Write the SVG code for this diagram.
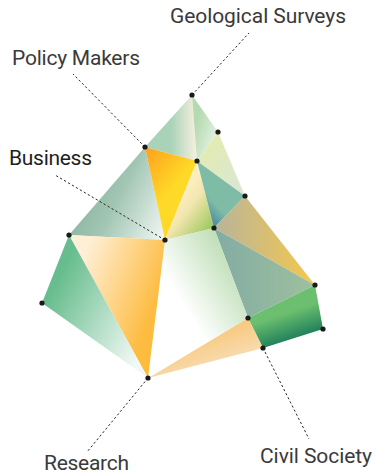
<svg xmlns="http://www.w3.org/2000/svg" width="376" height="474" viewBox="0 0 376 474">
<style>
text{font-family:"Roboto","Noto Sans","Liberation Sans",sans-serif;font-size:21px;fill:#3a3a3a}
.l{fill:none;stroke:#2a2a2a;stroke-width:1;stroke-dasharray:2.3 2.3}
.d{fill:#1a1a1a}
</style>
<defs>
<linearGradient id="g1" gradientUnits="userSpaceOnUse" x1="145" y1="130" x2="197" y2="130"><stop offset="0" stop-color="#a9d3b9"/><stop offset=".5" stop-color="#a9d3b9"/><stop offset="1" stop-color="#f8f0e0"/></linearGradient>
<linearGradient id="g2" gradientUnits="userSpaceOnUse" x1="195" y1="125" x2="225" y2="135"><stop offset="0" stop-color="#b5dab0"/><stop offset="1" stop-color="#eff7f0"/></linearGradient>
<linearGradient id="g3" gradientUnits="userSpaceOnUse" x1="205" y1="150" x2="245" y2="190"><stop offset="0" stop-color="#e2ebb4"/><stop offset="1" stop-color="#d9e7d6"/></linearGradient>
<linearGradient id="g4" gradientUnits="userSpaceOnUse" x1="145" y1="150" x2="180" y2="180"><stop offset="0" stop-color="#fda11f"/><stop offset="1" stop-color="#ffd927"/></linearGradient>
<linearGradient id="g5" gradientUnits="userSpaceOnUse" x1="180" y1="195" x2="214" y2="222"><stop offset="0" stop-color="#fdeec0"/><stop offset=".35" stop-color="#f2e6ae"/><stop offset="1" stop-color="#a3c964"/></linearGradient>
<linearGradient id="g6" gradientUnits="userSpaceOnUse" x1="235" y1="195" x2="208" y2="220"><stop offset="0" stop-color="#7fbca5"/><stop offset=".55" stop-color="#7fbca5"/><stop offset="1" stop-color="#4a8a9c"/></linearGradient>
<linearGradient id="g7" gradientUnits="userSpaceOnUse" x1="215" y1="240" x2="315" y2="240"><stop offset="0" stop-color="#b8b49a"/><stop offset="1" stop-color="#f5c84e"/></linearGradient>
<linearGradient id="g8" gradientUnits="userSpaceOnUse" x1="214" y1="270" x2="315" y2="270"><stop offset="0" stop-color="#82aba3"/><stop offset="1" stop-color="#9fc09e"/></linearGradient>
<linearGradient id="g9" gradientUnits="userSpaceOnUse" x1="280" y1="300" x2="295" y2="345"><stop offset="0" stop-color="#6bbf6e"/><stop offset=".3" stop-color="#6bbf6e"/><stop offset="1" stop-color="#0f7256"/></linearGradient>
<linearGradient id="g10" gradientUnits="userSpaceOnUse" x1="240" y1="320" x2="255" y2="365"><stop offset="0" stop-color="#f8c77a"/><stop offset="1" stop-color="#f8e3c4"/></linearGradient>
<linearGradient id="g11" gradientUnits="userSpaceOnUse" x1="180" y1="300" x2="245" y2="260"><stop offset="0" stop-color="#fff"/><stop offset="1" stop-color="#b5d9ac"/></linearGradient>
<linearGradient id="g12" gradientUnits="userSpaceOnUse" x1="80" y1="265" x2="160" y2="295"><stop offset="0" stop-color="#ffefd6"/><stop offset="1" stop-color="#fdbb3f"/></linearGradient>
<linearGradient id="g13" gradientUnits="userSpaceOnUse" x1="50" y1="295" x2="145" y2="345"><stop offset="0" stop-color="#68bd8e"/><stop offset="1" stop-color="#f2f9f5"/></linearGradient>
<linearGradient id="g14" gradientUnits="userSpaceOnUse" x1="85" y1="195" x2="165" y2="235"><stop offset="0" stop-color="#8cb8a2"/><stop offset=".35" stop-color="#a3c6b4"/><stop offset="1" stop-color="#f0f7f4"/></linearGradient>
</defs>
<g id="facets">
<polygon fill="url(#g1)" points="192,95 145,147 197,161"/>
<polygon fill="url(#g2)" points="192,95 218,132 197,161"/>
<polygon fill="url(#g3)" points="218,132 197,161 245,196"/>
<polygon fill="url(#g14)" points="145,147 69,235 165,240"/>
<polygon fill="url(#g4)" points="145,147 197,161 165,240"/>
<polygon fill="url(#g5)" points="197,161 214,228 165,240"/>
<polygon fill="url(#g6)" points="197,161 245,196 214,228"/>
<polygon fill="url(#g7)" points="245,196 315,285 214,228"/>
<polygon fill="url(#g8)" points="214,228 315,285 248,318"/>
<polygon fill="url(#g9)" points="248,318 315,285 323,329 263,348"/>
<polygon fill="url(#g10)" points="248,318 263,348 148,378"/>
<polygon fill="url(#g11)" points="165,240 214,228 248,318 148,378"/>
<polygon fill="url(#g12)" points="69,235 165,240 148,378"/>
<polygon fill="url(#g13)" points="69,235 42,303 148,378"/>
</g>
<g id="connectors">
<path class="l" d="M192,95 249,33"/>
<path class="l" d="M145,147 73,74"/>
<path class="l" d="M165,240 55,175"/>
<path class="l" d="M148,378 87,452"/>
<path class="l" d="M263,348 309,439"/>
</g>
<g id="points">
<circle class="d" cx="192" cy="95" r="2.6"/>
<circle class="d" cx="218" cy="132" r="2.6"/>
<circle class="d" cx="145" cy="147" r="2.6"/>
<circle class="d" cx="197" cy="161" r="2.6"/>
<circle class="d" cx="245" cy="196" r="2.6"/>
<circle class="d" cx="214" cy="228" r="2.6"/>
<circle class="d" cx="165" cy="240" r="2.6"/>
<circle class="d" cx="69" cy="235" r="2.6"/>
<circle class="d" cx="42" cy="303" r="2.6"/>
<circle class="d" cx="148" cy="378" r="2.6"/>
<circle class="d" cx="248" cy="318" r="2.6"/>
<circle class="d" cx="315" cy="285" r="2.6"/>
<circle class="d" cx="323" cy="329" r="2.6"/>
<circle class="d" cx="263" cy="348" r="2.6"/>
</g>
<g id="label-geological"><text x="170" y="23" textLength="176">Geological Surveys</text></g>
<g id="label-policy"><text x="12" y="65" textLength="128">Policy Makers</text></g>
<g id="label-business"><text x="9" y="165" textLength="83" style="fill:#1e1e1e">Business</text></g>
<g id="label-research"><text x="44" y="469.5" textLength="85">Research</text></g>
<g id="label-civil"><text x="260" y="462.5" textLength="112">Civil Society</text></g>
</svg>
